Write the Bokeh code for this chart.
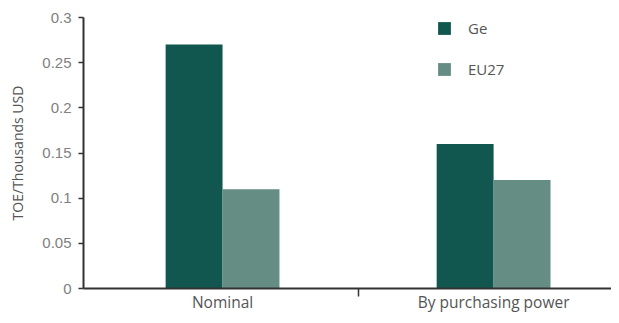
from bokeh.plotting import figure
from bokeh.models import Range1d, FixedTicker, ColumnDataSource, Legend, LegendItem
from bokeh.embed import file_html
from bokeh.resources import INLINE

categories = ["Nominal", "By purchasing power"]
series_names = ["Ge", "EU27"]
ge_values = [0.27, 0.16]
eu27_values = [0.11, 0.12]
y_ticks = [0, 0.05, 0.1, 0.15, 0.2, 0.25, 0.3]
y_tick_labels = ["0", "0.05", "0.1", "0.15", "0.2", "0.25", "0.3"]
colors = ["#115750", "#658d83"]

centers = [i + 0.5 for i in range(len(categories))]
bar_w = 0.21
off = bar_w / 2

p = figure(width=611, height=315, output_backend="svg", toolbar_location=None,
           x_range=Range1d(-0.013, 1.935), y_range=Range1d(0, 0.3),
           min_border_left=83, min_border_right=0, min_border_top=17, min_border_bottom=27)
p.outline_line_color = None
p.grid.grid_line_color = None
p.background_fill_color = "white"
p.border_fill_color = "white"

src_ge = ColumnDataSource(dict(x=[c - off for c in centers], top=ge_values))
src_eu = ColumnDataSource(dict(x=[c + off for c in centers], top=eu27_values))
r1 = p.vbar(x="x", top="top", width=bar_w, source=src_ge, fill_color=colors[0], line_color=None)
r2 = p.vbar(x="x", top="top", width=bar_w, source=src_eu, fill_color=colors[1], line_color=None)

# x axis
xa = p.xaxis[0]
xa.ticker = FixedTicker(ticks=centers, minor_ticks=[1.0])
xa.major_label_overrides = {c: lab for c, lab in zip(centers, categories)}
xa.major_tick_out = 0
xa.major_tick_in = 0
xa.minor_tick_out = 8
xa.minor_tick_in = 0
xa.minor_tick_line_color = "#333333"
xa.minor_tick_line_width = 1.5
xa.axis_line_color = "#333333"
xa.axis_line_width = 2
xa.major_label_text_font = "Open Sans"
xa.major_label_text_font_size = "15.5px"
xa.major_label_text_color = "#555555"
xa.major_label_standoff = -6

# y axis
ya = p.yaxis[0]
ya.ticker = FixedTicker(ticks=y_ticks, minor_ticks=[])
ya.major_label_overrides = {t: lab for t, lab in zip(y_ticks, y_tick_labels)}
ya.major_tick_out = 5
ya.major_tick_in = 0
ya.major_tick_line_color = "#333333"
ya.major_tick_line_width = 1.5
ya.axis_line_color = "#333333"
ya.axis_line_width = 2
ya.major_label_text_font = "Liberation Sans"
ya.major_label_text_font_size = "15px"
ya.major_label_text_color = "#808080"
ya.major_label_standoff = 7
ya.axis_label = "TOE/Thousands USD"
ya.axis_label_text_font = "Open Sans"
ya.axis_label_text_font_style = "normal"
ya.axis_label_text_font_size = "14px"
ya.axis_label_text_color = "#555555"
ya.axis_label_standoff = 12

legend = Legend(items=[LegendItem(label=series_names[0], renderers=[r1]),
                       LegendItem(label=series_names[1], renderers=[r2])],
                location=(353, 208), orientation="vertical")
legend.border_line_color = None
legend.background_fill_alpha = 0
legend.padding = 0
legend.margin = 0
legend.glyph_width = 16
legend.glyph_height = 16
legend.label_height = 22
legend.label_standoff = 16
legend.spacing = 19
legend.label_text_font = "Open Sans"
legend.label_text_font_size = "15px"
legend.label_text_color = "#555555"
p.add_layout(legend)

open("out.html", "w").write(file_html(p, INLINE))
